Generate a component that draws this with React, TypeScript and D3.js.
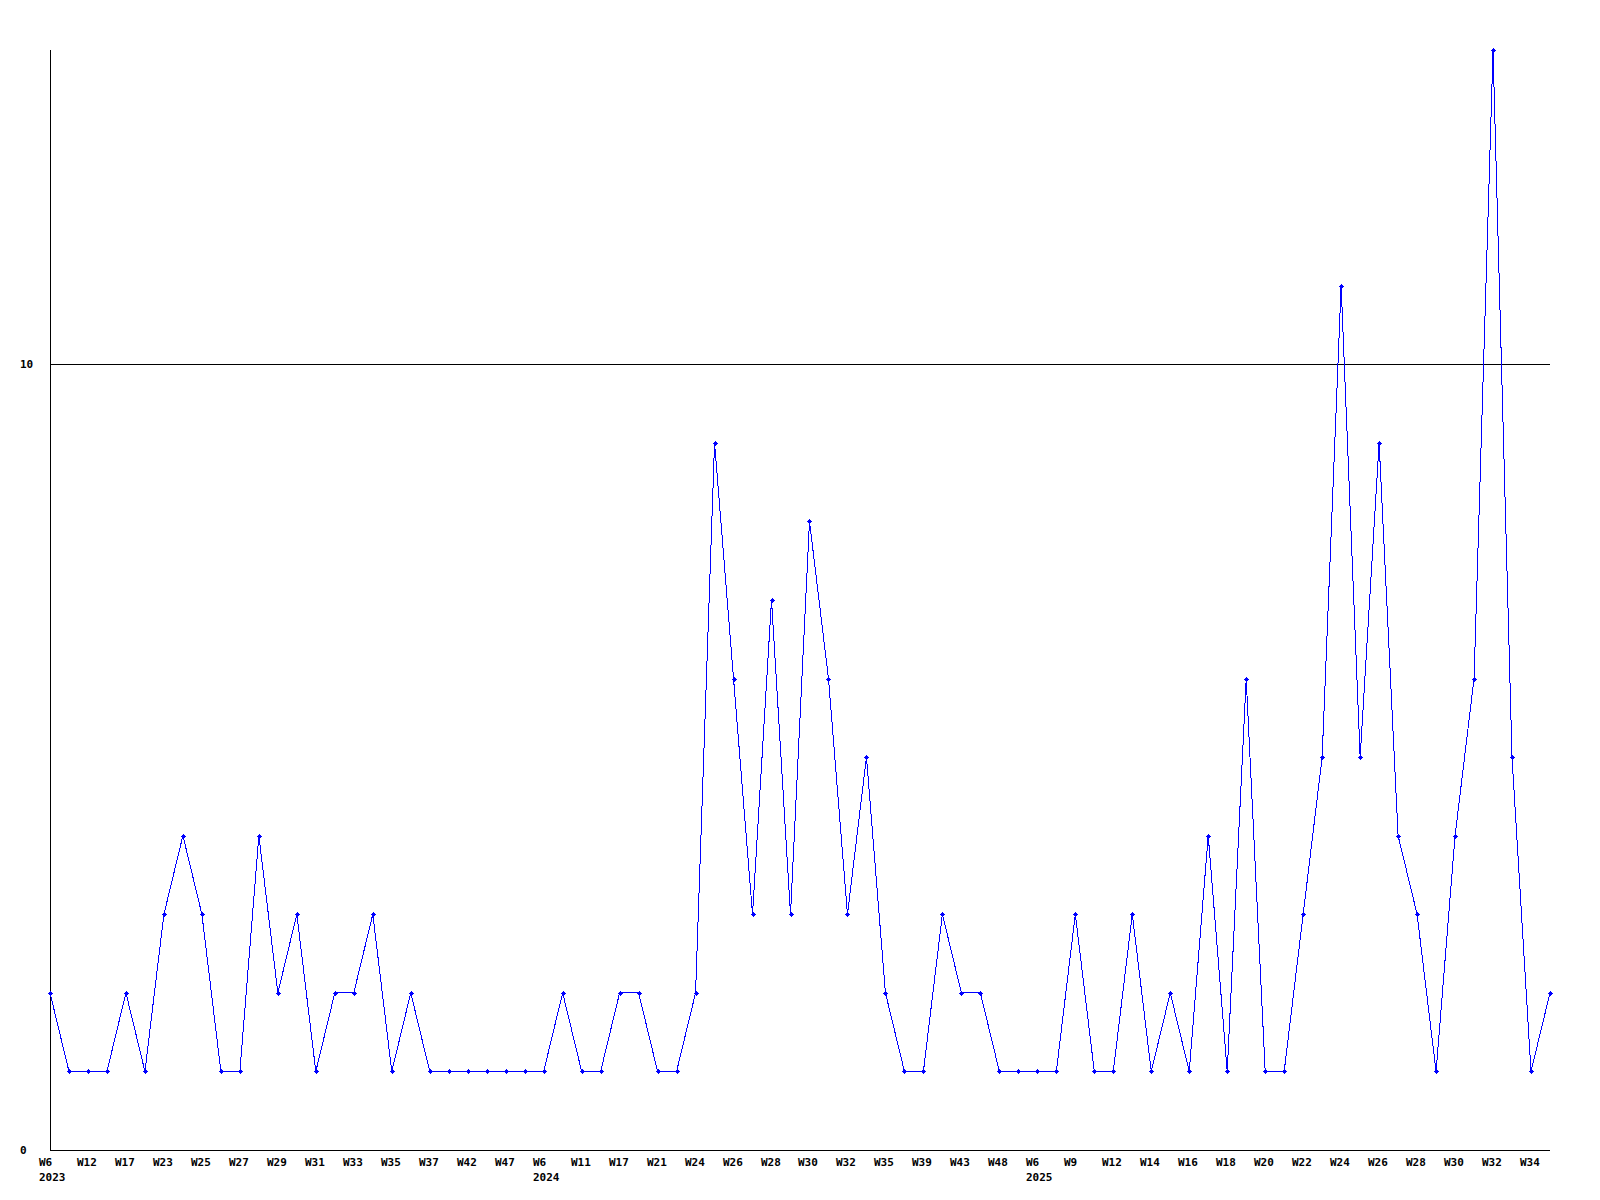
import React from "react";
import * as d3 from "d3";

const weekLabels = [
  "W6", "W12", "W17", "W23", "W25", "W27", "W29", "W31", "W33", "W35",
  "W37", "W42", "W47", "W6", "W11", "W17", "W21", "W24", "W26", "W28",
  "W30", "W32", "W35", "W39", "W43", "W48", "W6", "W9", "W12", "W14",
  "W16", "W18", "W20", "W22", "W24", "W26", "W28", "W30", "W32", "W34",
];
const yearLabels: [number, string][] = [
  [0, "2023"],
  [13, "2024"],
  [26, "2025"],
];
const values = [
  2, 1, 1, 1, 2, 1, 3, 4, 3, 1,
  1, 4, 2, 3, 1, 2, 2, 3, 1, 2,
  1, 1, 1, 1, 1, 1, 1, 2, 1, 1,
  2, 2, 1, 1, 2, 9, 6, 3, 7, 3,
  8, 6, 3, 5, 2, 1, 1, 3, 2, 2,
  1, 1, 1, 1, 3, 1, 1, 3, 1, 2,
  1, 4, 1, 6, 1, 1, 3, 5, 11, 5,
  9, 4, 3, 1, 4, 6, 14, 5, 1, 2,
];
const yTicks = [0, 10];

export default function App() {
  const W = 1600, H = 1200;
  const left = 50, right = 1550, top = 50, bottom = 1150;
  const x = d3.scaleLinear().domain([0, values.length - 1]).range([left, right]);
  const y = d3.scaleLinear().domain([0, 14]).range([bottom, top]);
  const line = d3.line<number>().x((_, i) => x(i)).y((d) => y(d));
  const font = "'DejaVu Sans Mono', monospace";
  return (
    <svg width={W} height={H} style={{ position: "absolute", left: 0, top: 0, background: "#fff" }}>
      <rect x={0} y={0} width={W} height={H} fill="#fff" />
      {yTicks.map((t) => (
        <g key={t}>
          {t > 0 && (
            <line x1={left} x2={right} y1={Math.round(y(t)) + 0.5} y2={Math.round(y(t)) + 0.5} stroke="#000" strokeWidth={1} shapeRendering="crispEdges" />
          )}
          <text x={20} y={Math.round(y(t))} dy="0.35em" fontFamily={font} fontWeight="bold" fontSize={11} fill="#000">
            {t}
          </text>
        </g>
      ))}
      <line x1={left + 0.5} x2={left + 0.5} y1={top} y2={bottom} stroke="#000" strokeWidth={1} shapeRendering="crispEdges" />
      <line x1={left} x2={right} y1={bottom + 0.5} y2={bottom + 0.5} stroke="#000" strokeWidth={1} shapeRendering="crispEdges" />
      <path d={line(values) || ""} fill="none" stroke="#0000ff" strokeWidth={1} shapeRendering="crispEdges" />
      {values.map((v, i) => (
        <g key={i} transform={`translate(${Math.round(x(i))},${Math.round(y(v))})`} fill="#0000ff" shapeRendering="crispEdges">
          <rect x={-2} y={0} width={5} height={1} />
          <rect x={-1} y={-1} width={3} height={3} />
          <rect x={0} y={-2} width={1} height={5} />
        </g>
      ))}
      {weekLabels.map((l, k) => (
        <text key={k} x={Math.round(x(k * 2)) - 11} y={1162} dy="0.35em" fontFamily={font} fontWeight="bold" fontSize={11} fill="#000">
          {l}
        </text>
      ))}
      {yearLabels.map(([k, l]) => (
        <text key={l} x={Math.round(x(k * 2)) - 11} y={1177} dy="0.35em" fontFamily={font} fontWeight="bold" fontSize={11} fill="#000">
          {l}
        </text>
      ))}
    </svg>
  );
}
